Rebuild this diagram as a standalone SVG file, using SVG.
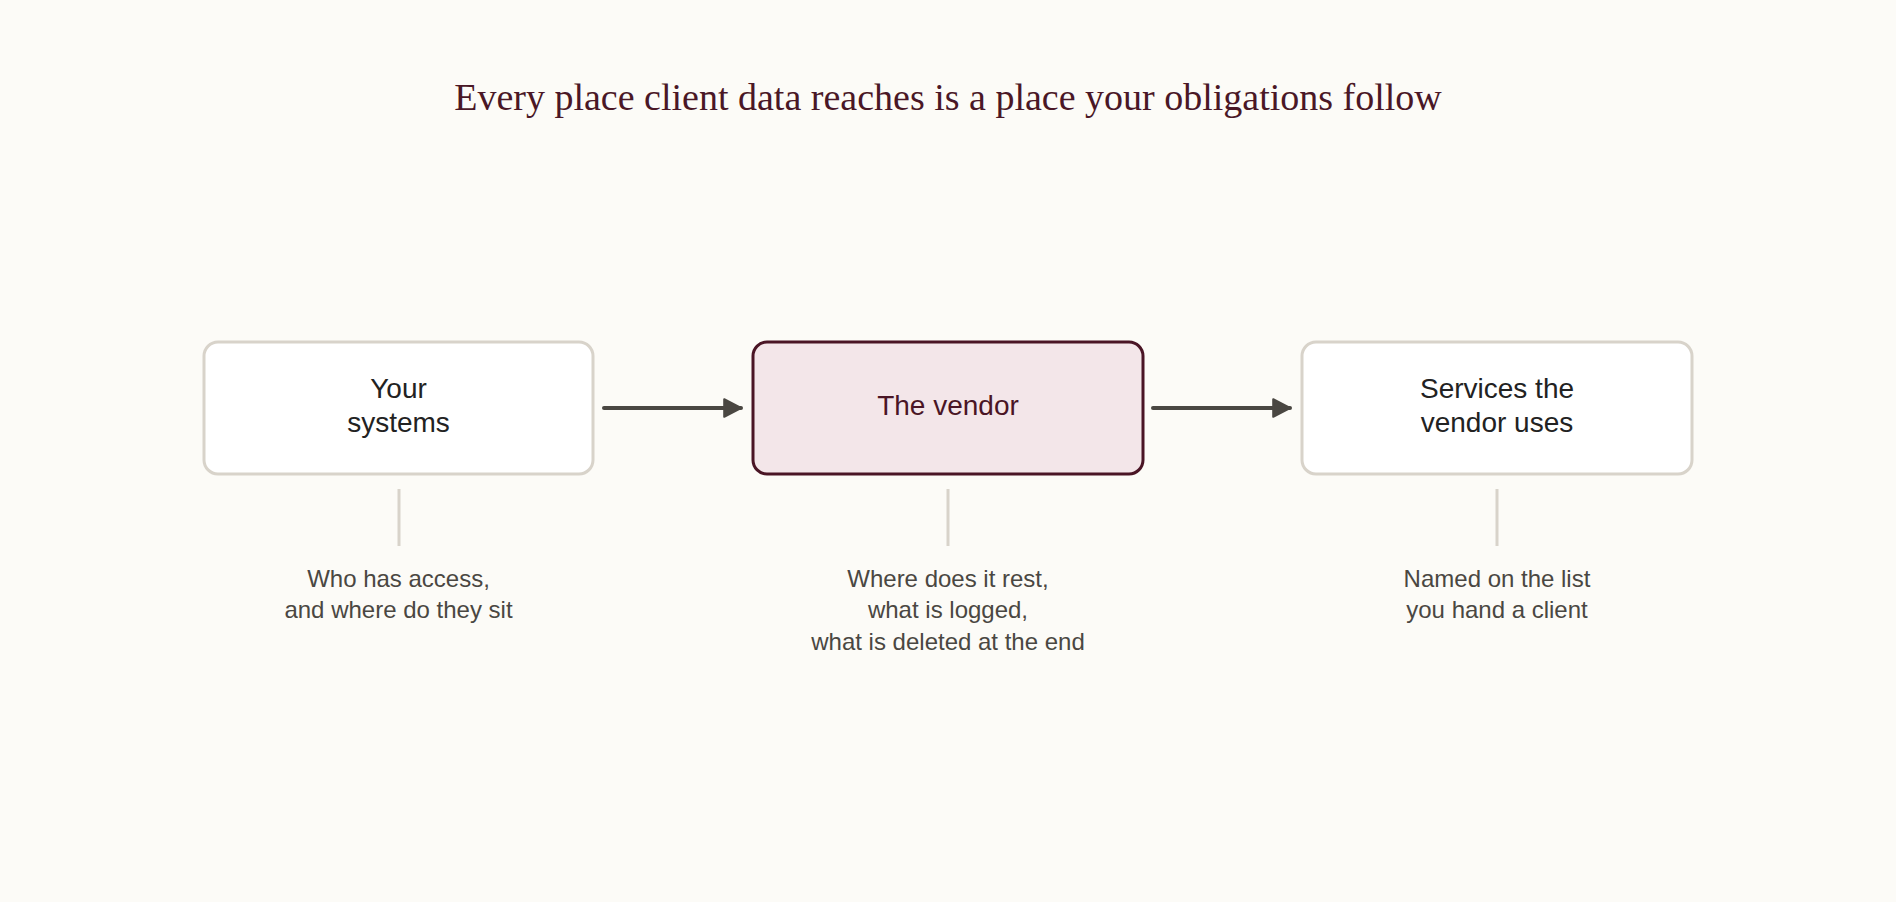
<svg xmlns="http://www.w3.org/2000/svg" width="1896" height="902" viewBox="0 0 1896 902">
<style>
.title{font-family:Georgia,"Liberation Serif","DejaVu Serif",serif;font-size:38px;fill:#4a1726;text-anchor:middle}
.box{fill:#ffffff;stroke:#d8d3ca;stroke-width:3}
.box.hl{fill:#f3e6e9;stroke:#4a1525;stroke-width:3}
.lbl{font-family:"Liberation Sans",Arial,sans-serif;font-size:28px;fill:#222222;text-anchor:middle}
.lbl.hl{fill:#4a1525}
.sub{font-family:"Liberation Sans",Arial,sans-serif;font-size:24px;fill:#4a4742;text-anchor:middle}
.tick{stroke:#d8d3ca;stroke-width:3}
.conn{stroke:#4a4742;stroke-width:4;stroke-linecap:round;fill:none}
</style>
<defs>
<marker id="arr" markerWidth="6" markerHeight="6" refX="4.5" refY="3" orient="auto" markerUnits="strokeWidth">
<path d="M0.3,0.8 L4.5,3 L0.3,5.2 Z" fill="#4a4742" stroke="#4a4742" stroke-width="0.5" stroke-linejoin="round"/>
</marker>
</defs>
<rect width="1896" height="902" fill="#fcfbf7"/>
<text class="title" x="948" y="110">Every place client data reaches is a place your obligations follow</text>
<g id="node-systems">
<rect class="box" x="204" y="342" width="389" height="132" rx="14"/>
<text class="lbl" x="398.5" y="398">Your</text>
<text class="lbl" x="398.5" y="432">systems</text>
<line class="tick" x1="399" y1="489" x2="399" y2="546"/>
<text class="sub" x="398.5" y="587">Who has access,</text>
<text class="sub" x="398.5" y="618">and where do they sit</text>
</g>
<g id="node-vendor">
<rect class="box hl" x="753" y="342" width="390" height="132" rx="14"/>
<text class="lbl hl" x="948" y="415">The vendor</text>
<line class="tick" x1="948" y1="489" x2="948" y2="546"/>
<text class="sub" x="948" y="587">Where does it rest,</text>
<text class="sub" x="948" y="618">what is logged,</text>
<text class="sub" x="948" y="649.5">what is deleted at the end</text>
</g>
<g id="node-services">
<rect class="box" x="1302" y="342" width="390" height="132" rx="14"/>
<text class="lbl" x="1497" y="398">Services the</text>
<text class="lbl" x="1497" y="432">vendor uses</text>
<line class="tick" x1="1497" y1="489" x2="1497" y2="546"/>
<text class="sub" x="1497" y="587">Named on the list</text>
<text class="sub" x="1497" y="618">you hand a client</text>
</g>
<g id="connectors">
<line class="conn" x1="604" y1="408" x2="741" y2="408" marker-end="url(#arr)"/>
<line class="conn" x1="1153" y1="408" x2="1290" y2="408" marker-end="url(#arr)"/>
</g>
</svg>
